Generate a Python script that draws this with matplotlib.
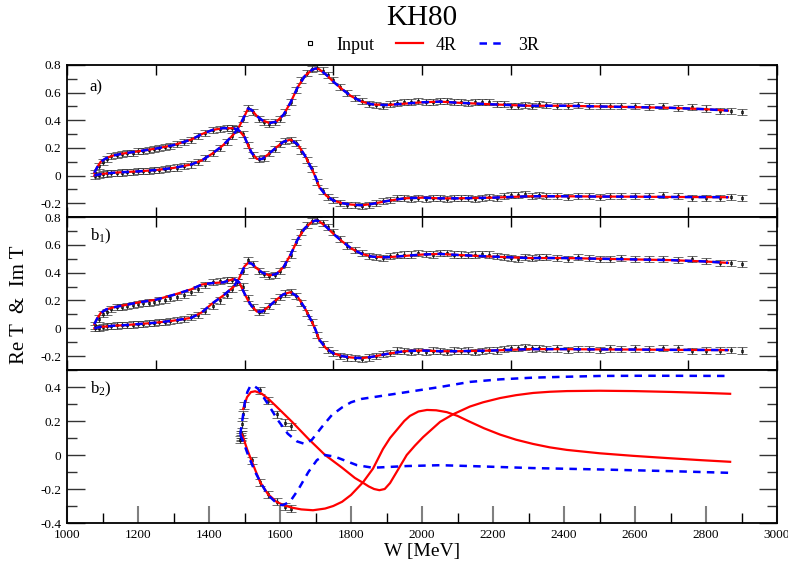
import numpy as np
import matplotlib
matplotlib.use("Agg")
import matplotlib.pyplot as plt
from matplotlib.ticker import MultipleLocator, FuncFormatter
from matplotlib.lines import Line2D

plt.rcParams['font.family'] = ['Liberation Serif', 'DejaVu Serif']
plt.rcParams['mathtext.fontset'] = 'custom'
plt.rcParams['mathtext.rm'] = 'Liberation Serif'
plt.rcParams['mathtext.it'] = 'Liberation Serif:italic'

# input points (same in panels a and b1)
w_data = [1080, 1090, 1100, 1112, 1125, 1140, 1155, 1170, 1185, 1200, 1215, 1230, 1245, 1260, 1275,
          1290, 1310, 1330, 1350, 1370, 1390, 1410, 1430, 1450, 1465, 1480, 1495, 1510, 1525, 1540,
          1555, 1570, 1585, 1600, 1615, 1630, 1645, 1660, 1675, 1690, 1705, 1720, 1735, 1750, 1770,
          1790, 1810, 1830, 1850, 1870, 1890, 1910, 1930, 1950, 1970, 1990, 2010, 2030, 2050, 2070,
          2090, 2110, 2130, 2150, 2170, 2190, 2210, 2230, 2250, 2270, 2290, 2310, 2330, 2350, 2380,
          2410, 2440, 2470, 2500, 2530, 2560, 2600, 2640, 2680, 2720, 2760, 2800, 2840, 2870, 2900]
re_data = [0.02, 0.07, 0.10, 0.12, 0.14, 0.15, 0.155, 0.16, 0.165, 0.175, 0.18, 0.185, 0.19, 0.2, 0.205,
           0.215, 0.225, 0.24, 0.26, 0.285, 0.31, 0.33, 0.34, 0.345, 0.345, 0.335, 0.30, 0.22, 0.15, 0.12,
           0.13, 0.16, 0.195, 0.225, 0.25, 0.26, 0.235, 0.18, 0.11, 0.045, -0.05, -0.115, -0.155, -0.18, -0.2,
           -0.21, -0.215, -0.22, -0.21, -0.2, -0.185, -0.175, -0.16, -0.165, -0.17, -0.165, -0.17, -0.16, -0.165, -0.17,
           -0.16, -0.165, -0.16, -0.17, -0.165, -0.155, -0.16, -0.15, -0.14, -0.14, -0.135, -0.145, -0.14, -0.15, -0.145,
           -0.155, -0.15, -0.15, -0.155, -0.145, -0.15, -0.145, -0.15, -0.14, -0.145, -0.165, -0.16, -0.16, -0.155, -0.16]
im_data = [0.0, 0.005, 0.01, 0.015, 0.018, 0.02, 0.022, 0.025, 0.027, 0.03, 0.032, 0.035, 0.038, 0.042, 0.047,
           0.052, 0.058, 0.067, 0.08, 0.095, 0.125, 0.16, 0.2, 0.24, 0.285, 0.335, 0.41, 0.49, 0.46, 0.41,
           0.39, 0.375, 0.385, 0.41, 0.46, 0.53, 0.62, 0.69, 0.74, 0.77, 0.78, 0.76, 0.73, 0.69, 0.64,
           0.595, 0.56, 0.54, 0.52, 0.51, 0.505, 0.52, 0.525, 0.53, 0.53, 0.54, 0.535, 0.53, 0.54, 0.54,
           0.53, 0.53, 0.525, 0.53, 0.535, 0.53, 0.52, 0.515, 0.505, 0.5, 0.51, 0.505, 0.515, 0.51, 0.505,
           0.5, 0.51, 0.505, 0.5, 0.5, 0.505, 0.5, 0.495, 0.5, 0.49, 0.495, 0.485, 0.47, 0.47, 0.46]
err_data = 0.022

# fits, panel a (4R and 3R lie on top of each other)
w_fit = [1077, 1085, 1095, 1110, 1130, 1160, 1200, 1250, 1300, 1350, 1380, 1410, 1440, 1470, 1485, 1500,
         1510, 1520, 1535, 1550, 1570, 1590, 1610, 1630, 1650, 1670, 1690, 1700, 1710, 1730, 1750, 1775,
         1800, 1830, 1860, 1900, 1950, 2000, 2050, 2100, 2200, 2300, 2400, 2500, 2600, 2700, 2800, 2862]
re_fit_a = [0.02, 0.06, 0.10, 0.125, 0.145, 0.16, 0.175, 0.195, 0.22, 0.26, 0.3, 0.33, 0.343, 0.342, 0.325, 0.28,
            0.22, 0.165, 0.12, 0.12, 0.16, 0.205, 0.245, 0.26, 0.225, 0.145, 0.045, -0.01, -0.08, -0.145, -0.18, -0.2,
            -0.21, -0.215, -0.205, -0.185, -0.165, -0.16, -0.165, -0.165, -0.16, -0.15, -0.15, -0.152, -0.153, -0.155, -0.156, -0.157]
im_fit_a = [0.0, 0.005, 0.01, 0.015, 0.02, 0.025, 0.03, 0.04, 0.055, 0.08, 0.11, 0.16, 0.22, 0.3, 0.355, 0.43,
            0.485, 0.475, 0.43, 0.40, 0.38, 0.39, 0.44, 0.53, 0.64, 0.72, 0.765, 0.775, 0.77, 0.73, 0.68, 0.625,
            0.575, 0.535, 0.515, 0.51, 0.52, 0.53, 0.535, 0.527, 0.515, 0.505, 0.505, 0.5, 0.495, 0.49, 0.48, 0.47]

# fits, panel b1
re_fit_b1 = [0.03, 0.07, 0.11, 0.135, 0.15, 0.165, 0.185, 0.205, 0.24, 0.28, 0.315, 0.325, 0.33, 0.355, 0.33, 0.25,
             0.2, 0.16, 0.12, 0.12, 0.16, 0.205, 0.245, 0.26, 0.225, 0.145, 0.045, -0.01, -0.08, -0.145, -0.18, -0.2,
             -0.21, -0.215, -0.205, -0.185, -0.165, -0.16, -0.165, -0.165, -0.16, -0.15, -0.15, -0.152, -0.153, -0.155, -0.156, -0.157]
im_fit_b1 = [0.0, 0.005, 0.01, 0.013, 0.018, 0.022, 0.03, 0.04, 0.055, 0.075, 0.115, 0.18, 0.235, 0.3, 0.36, 0.445,
             0.47, 0.465, 0.43, 0.40, 0.38, 0.39, 0.44, 0.53, 0.64, 0.72, 0.765, 0.775, 0.77, 0.73, 0.68, 0.625,
             0.575, 0.535, 0.515, 0.51, 0.52, 0.53, 0.535, 0.527, 0.515, 0.505, 0.505, 0.5, 0.495, 0.49, 0.48, 0.47]

# panel b2 input
w_b2_up = [1490, 1493, 1496, 1499, 1544, 1566, 1592, 1614, 1632]
v_b2_up = [0.12, 0.18, 0.24, 0.29, 0.38, 0.32, 0.24, 0.19, 0.17]
w_b2_lo = [1487, 1489, 1491, 1493, 1521, 1544, 1566, 1592, 1614, 1632]
v_b2_lo = [0.09, 0.10, 0.11, 0.12, -0.03, -0.16, -0.23, -0.275, -0.305, -0.315]
err_b2 = 0.02

# panel b2, 4R
w_4r_1 = [1496, 1507, 1518, 1530, 1549, 1570, 1590, 1634, 1680, 1727, 1775, 1811, 1835, 1850, 1865, 1880,
          1895, 1910, 1930, 1957, 1980, 2003, 2051, 2088, 2135, 2172, 2220, 2265, 2313, 2360, 2408, 2500,
          2595, 2700, 2800, 2868]
v_4r_1 = [0.27, 0.34, 0.37, 0.375, 0.36, 0.325, 0.285, 0.195, 0.095, 0.0, -0.075, -0.135, -0.165, -0.185, -0.2, -0.207,
          -0.2, -0.165, -0.095, 0.0, 0.055, 0.105, 0.195, 0.24, 0.285, 0.31, 0.335, 0.352, 0.365, 0.372, 0.376, 0.378,
          0.376, 0.371, 0.365, 0.36]
w_4r_2 = [1490, 1496, 1508, 1521, 1544, 1566, 1590, 1610, 1634, 1660, 1693, 1727, 1750, 1775, 1800, 1834,
          1862, 1890, 1910, 1930, 1950, 1966, 1990, 2014, 2040, 2070, 2100, 2130, 2175, 2220, 2265, 2313,
          2360, 2408, 2501, 2595, 2690, 2783, 2868]
v_4r_2 = [0.13, 0.105, 0.03, -0.04, -0.16, -0.23, -0.275, -0.295, -0.31, -0.32, -0.325, -0.315, -0.3, -0.275, -0.235, -0.16,
          -0.08, 0.035, 0.1, 0.15, 0.2, 0.23, 0.256, 0.265, 0.263, 0.252, 0.23, 0.2, 0.157, 0.12, 0.09, 0.065,
          0.045, 0.03, 0.01, -0.005, -0.018, -0.03, -0.04]

# panel b2, 3R
w_3r_1 = [1488, 1495, 1501, 1508, 1515, 1524, 1538, 1566, 1594, 1622, 1648, 1670, 1690, 1718, 1746, 1775,
          1800, 1830, 1862, 1957, 2051, 2135, 2220, 2313, 2400, 2501, 2600, 2700, 2868]
v_3r_1 = [0.12, 0.22, 0.31, 0.37, 0.40, 0.41, 0.39, 0.30, 0.205, 0.125, 0.08, 0.065, 0.09, 0.165, 0.235, 0.28,
          0.31, 0.33, 0.34, 0.37, 0.40, 0.43, 0.445, 0.455, 0.46, 0.465, 0.466, 0.466, 0.465]
w_3r_2 = [1488, 1498, 1510, 1530, 1549, 1566, 1594, 1608, 1628, 1651, 1680, 1704, 1727, 1755, 1792, 1817,
          1862, 1957, 2051, 2135, 2313, 2500, 2700, 2868]
v_3r_2 = [0.12, 0.07, 0.0, -0.1, -0.175, -0.235, -0.29, -0.295, -0.275, -0.205, -0.1, -0.03, 0.0, -0.01, -0.04, -0.06,
          -0.075, -0.065, -0.06, -0.065, -0.077, -0.085, -0.095, -0.105]

red = '#ff0000'
blue = '#0000ff'
dash = (0, (3, 2.5))


def yfmt(v, pos):
    if abs(v) < 1e-9:
        return '0'
    return '%.1f' % v


def style_axis(ax, ylo, yhi, bottom_labels):
    ax.set_xlim(1000, 3000)
    ax.set_ylim(ylo, yhi)
    ax.yaxis.set_major_locator(MultipleLocator(0.2))
    ax.yaxis.set_minor_locator(MultipleLocator(0.1))
    ax.yaxis.set_major_formatter(FuncFormatter(yfmt))
    ax.tick_params(axis='y', which='major', direction='in', left=True, right=True, length=13, width=1,
                   labelsize=9.5, pad=4, color='#333333')
    ax.tick_params(axis='y', which='minor', direction='in', left=True, right=True, length=7, width=1,
                   color='#333333')
    if bottom_labels:
        ax.xaxis.set_major_locator(MultipleLocator(200))
        ax.xaxis.set_minor_locator(MultipleLocator(100))
        ax.tick_params(axis='x', which='major', direction='in', top=False, bottom=True, length=12, width=1.5,
                       color='#808080', labelsize=9.5, pad=4)
        ax.tick_params(axis='x', which='minor', direction='in', top=False, bottom=True, length=7, width=1)
    else:
        ax.xaxis.set_major_locator(MultipleLocator(250))
        ax.tick_params(axis='x', which='major', direction='in', top=True, bottom=True, length=7, width=1,
                       labelbottom=False)
    for s in ax.spines.values():
        s.set_linewidth(1.3)


def draw_fits(ax, w, re_vals, im_vals):
    for vals in (re_vals, im_vals):
        ax.plot(w, vals, color=red, lw=1.6, zorder=3)
        ax.plot(w, vals, color=blue, lw=1.8, linestyle=dash, zorder=4)


def draw_input(ax, w, vals, err):
    ax.errorbar(w, vals, yerr=err, fmt='s', ms=2, mfc='none', mec='black', mew=0.5,
                ecolor='#333333', elinewidth=0.9, capsize=3.5, capthick=0.9, zorder=2)


fig = plt.figure(figsize=(7.88, 5.64), dpi=100)
left = 67 / 788
width = 710 / 788
ax_a = fig.add_axes([left, 1 - 217 / 564, width, 152 / 564])
ax_b1 = fig.add_axes([left, 1 - 370 / 564, width, 153 / 564])
ax_b2 = fig.add_axes([left, 1 - 523 / 564, width, 153 / 564])

# panel a
draw_input(ax_a, w_data, re_data, err_data)
draw_input(ax_a, w_data, im_data, err_data)
draw_fits(ax_a, w_fit, re_fit_a, im_fit_a)
style_axis(ax_a, -0.3, 0.8, False)
ax_a.text(0.032, 0.855, 'a)', transform=ax_a.transAxes, fontsize=12, va='center')

# panel b1
draw_input(ax_b1, w_data, re_data, err_data)
draw_input(ax_b1, w_data, im_data, err_data)
draw_fits(ax_b1, w_fit, re_fit_b1, im_fit_b1)
style_axis(ax_b1, -0.3, 0.8, False)
ax_b1.text(0.032, 0.87, r'b$_1$)', transform=ax_b1.transAxes, fontsize=12, va='center')

# panel b2
draw_input(ax_b2, w_b2_up, v_b2_up, err_b2)
draw_input(ax_b2, w_b2_lo, v_b2_lo, err_b2)
ax_b2.plot(w_4r_1, v_4r_1, color=red, lw=1.6, zorder=3)
ax_b2.plot(w_4r_2, v_4r_2, color=red, lw=1.6, zorder=3)
ax_b2.plot(w_3r_1, v_3r_1, color=blue, lw=1.8, linestyle=dash, zorder=4)
ax_b2.plot(w_3r_2, v_3r_2, color=blue, lw=1.8, linestyle=dash, zorder=4)
style_axis(ax_b2, -0.4, 0.5, True)
ax_b2.text(0.032, 0.876, r'b$_2$)', transform=ax_b2.transAxes, fontsize=12, va='center')
ax_b2.set_xlabel('W [MeV]', fontsize=14, labelpad=2)

fig.text(20 / 788, 1 - 305 / 564, 'Re T  &  Im T', rotation=90, fontsize=15, ha='center', va='center')
fig.text(422 / 788, 1 - 18 / 564, 'KH80', fontsize=21, ha='center', va='center')

handles = [Line2D([], [], marker='s', ms=3.5, mfc='none', mec='black', mew=0.8, ls='none'),
           Line2D([], [], color=red, lw=1.6),
           Line2D([], [], color=blue, lw=1.8, linestyle=dash)]
fig.legend(handles, ['Input', '4R', '3R'], ncol=3, frameon=False, loc='center',
           bbox_to_anchor=(418 / 788, 1 - 45 / 564), fontsize=13, handlelength=1.5,
           columnspacing=1.2, handletextpad=0.7)

fig.savefig('out.png', dpi=100)
